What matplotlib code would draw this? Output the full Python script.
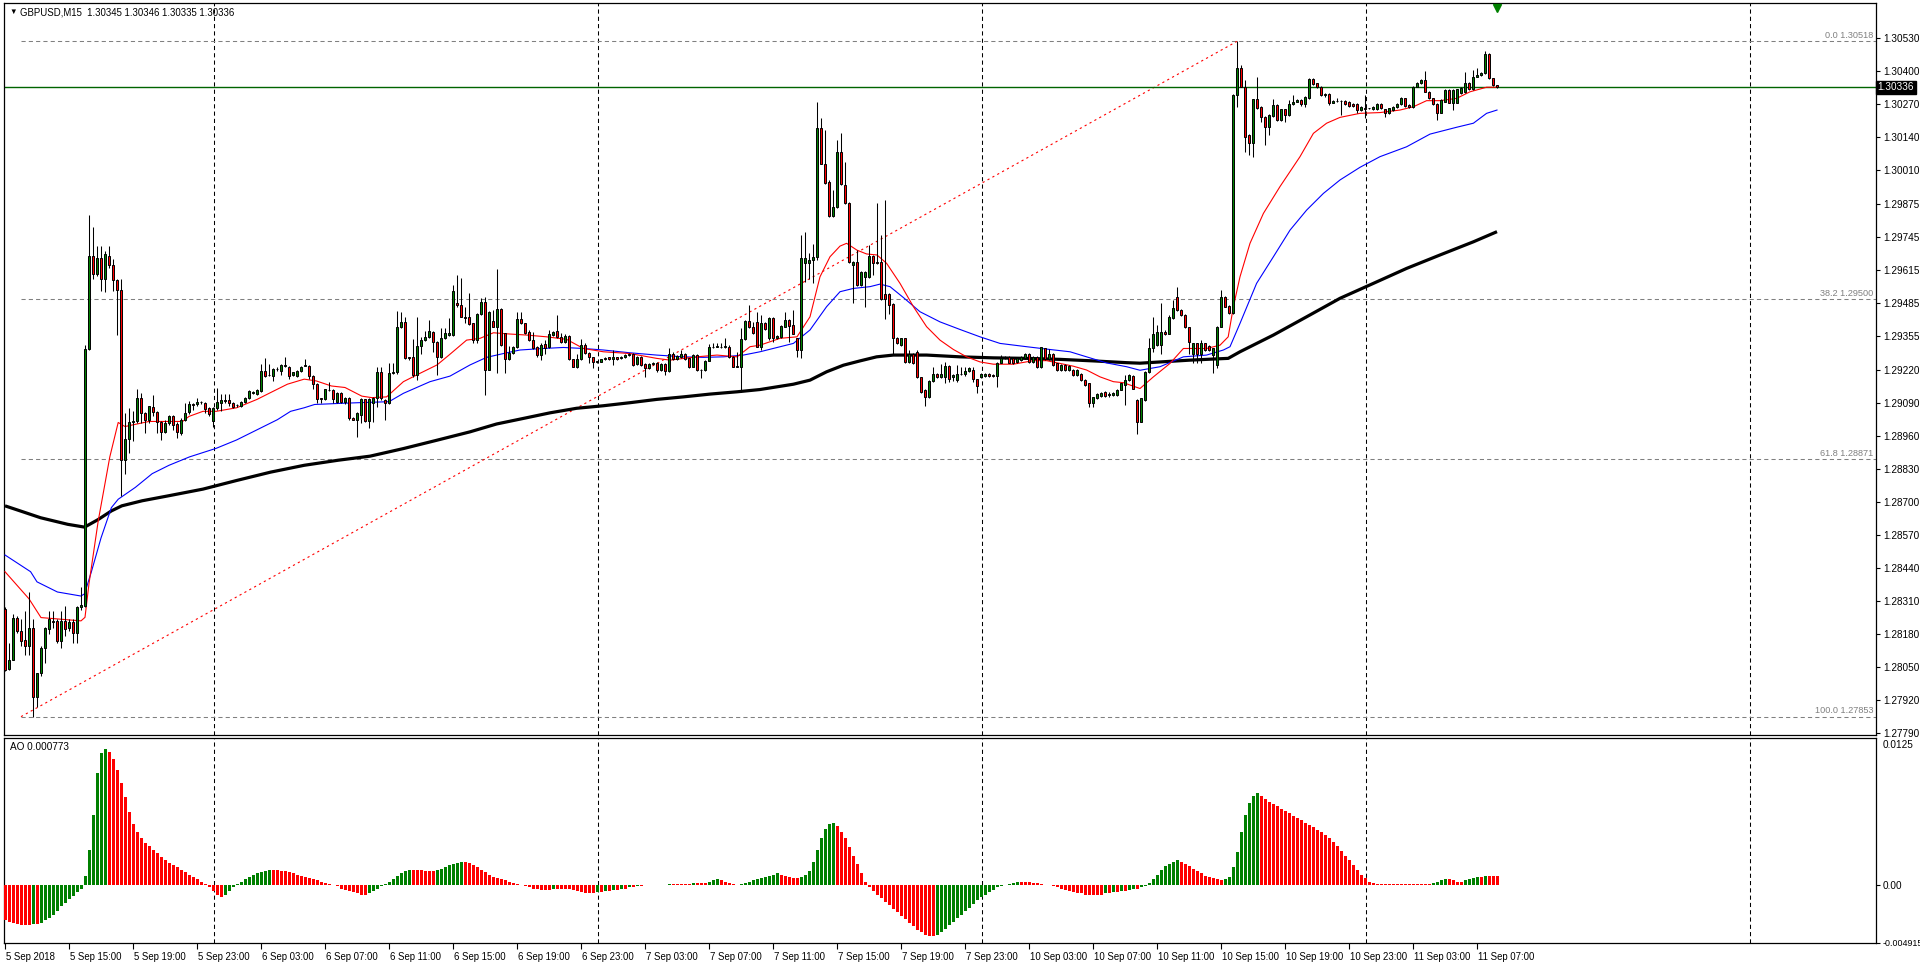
import matplotlib
matplotlib.use("Agg")
import matplotlib.pyplot as plt
from matplotlib.patches import Rectangle
from matplotlib.transforms import blended_transform_factory
import numpy as np

# ---------------- data (prices in pips above BASE) ----------------
BASE = 1.27
PIP = 0.0001
SYMBOL = "GBPUSD,M15"

OPEN = [
127.8,104.0,107.8,124.4,119.1,115.5,113.1,120.4,93.1,102.4,
112.4,119.8,123.1,123.1,115.1,123.1,120.4,122.7,118.4,128.5,
129.1,230.5,266.9,259.9,266.5,258.2,267.2,263.5,257.5,253.5,
186.5,194.8,201.4,201.8,211.2,205.2,202.5,207.6,205.6,201.7,
197.8,201.2,203.8,200.9,197.4,202.5,205.4,208.5,208.5,209.6,
209.2,207.2,201.8,207.2,209.2,209.7,210.2,209.2,208.2,207.8,
209.4,211.2,212.9,212.5,213.8,221.8,220.1,219.8,222.5,221.8,
223.6,223.4,220.1,219.8,221.8,223.8,223.8,219.8,216.5,210.9,
210.5,214.2,214.2,209.4,213.2,209.4,211.2,203.2,202.5,204.5,
210.5,201.8,208.9,210.9,221.4,210.2,208.9,220.8,221.4,238.9,
241.2,227.1,227.1,220.1,231.6,233.9,235.2,237.2,233.3,227.1,
234.6,235.9,235.9,248.4,247.7,243.1,243.1,240.5,233.9,244.2,
248.8,222.3,241.4,239.2,246.2,236.6,226.3,229.0,231.3,242.1,
240.5,237.2,233.9,231.3,228.0,232.3,231.0,235.9,237.6,235.0,
233.3,235.5,226.3,223.1,226.3,231.9,228.9,227.1,225.4,225.4,
226.3,227.1,226.3,227.1,226.7,227.3,228.0,228.6,224.4,227.3,
224.4,222.7,224.4,225.0,222.1,224.4,221.8,228.6,226.3,227.3,
228.4,226.7,223.4,228.0,222.3,222.1,225.8,231.0,231.3,231.0,
231.0,231.3,227.3,223.4,223.4,234.2,241.4,238.9,241.2,231.3,
240.8,234.6,242.8,234.6,235.2,239.2,241.8,239.8,234.6,230.0,
264.2,264.2,265.5,266.8,317.5,303.6,296.4,282.9,286.5,308.3,
295.1,288.1,263.5,264.8,255.6,258.9,258.9,267.1,264.8,264.8,
252.1,252.1,248.1,234.6,231.9,234.6,225.3,228.6,229.3,219.2,
214.2,211.3,217.8,220.7,219.4,219.4,223.6,219.4,218.1,220.5,
220.5,221.8,222.3,218.4,219.4,219.7,220.5,220.1,219.7,225.0,
226.7,227.3,226.7,225.3,226.0,226.7,228.6,225.3,227.3,223.1,
230.6,226.3,228.6,224.7,222.1,224.0,222.1,222.3,220.1,220.5,
218.1,216.8,208.9,210.9,211.8,213.5,212.4,212.2,212.2,214.4,
216.1,218.1,219.7,210.2,201.7,210.2,221.4,230.6,231.9,231.9,
237.2,236.5,242.5,251.0,245.8,243.8,238.9,228.6,232.6,228.6,
232.6,231.5,228.0,224.0,239.2,251.0,247.3,244.7,330.6,341.2,
333.7,314.8,311.8,328.9,326.0,322.1,317.9,322.3,326.7,320.8,
325.0,322.7,327.1,328.0,328.7,327.1,329.3,336.8,335.2,333.7,
330.6,331.0,327.6,328.4,328.3,328.4,328.0,327.1,327.1,324.7,
325.4,325.4,325.0,325.0,327.1,325.0,323.4,324.7,326.0,327.1,
329.3,326.7,325.8,333.9,335.2,336.6,332.0,329.3,327.1,323.7,
328.0,332.6,327.6,327.6,331.3,331.9,335.5,332.9,337.9,338.5,
339.2,346.8,337.2,334.5]

HIGH = [
128.5,114.4,125.8,125.1,123.8,127.1,134.5,123.8,102.6,113.1,
120.8,127.1,127.1,123.8,127.1,129.1,123.8,123.8,129.1,136.5,
232.0,283.2,278.5,271.2,271.2,269.0,271.2,266.0,257.9,257.9,
205.2,207.2,205.8,214.5,212.9,205.5,208.0,212.1,205.8,201.9,
202.5,204.5,204.5,201.4,203.2,209.2,209.8,209.2,211.2,209.9,
209.5,207.4,207.6,215.2,212.5,212.5,212.5,209.5,208.7,209.8,
211.6,214.2,213.8,214.5,224.5,226.8,224.5,222.8,223.2,224.5,
227.2,223.8,221.5,222.1,223.8,226.5,224.1,220.1,216.8,211.2,
214.8,217.2,214.5,213.5,213.5,211.5,211.5,203.5,205.5,211.2,
210.8,211.2,211.5,223.4,223.4,210.6,224.7,224.7,245.5,245.1,
243.1,227.4,234.2,243.1,235.2,237.6,241.8,237.6,233.6,238.5,
238.5,242.5,255.6,259.6,258.3,247.1,252.4,240.8,244.5,250.4,
251.0,245.4,245.8,261.8,246.5,236.9,231.6,231.6,245.1,245.1,
240.8,237.9,237.2,231.6,232.6,233.9,237.9,237.6,243.8,236.6,
236.2,235.8,226.6,228.6,234.2,232.6,229.2,227.4,225.8,226.6,
227.1,227.4,230.0,227.4,227.6,228.3,228.9,228.9,227.6,227.6,
224.7,224.7,225.3,225.3,224.7,224.7,230.6,229.3,227.9,230.0,
228.7,227.0,228.3,228.3,222.6,226.1,232.3,232.9,232.6,232.6,
234.6,231.9,227.6,229.3,238.5,241.8,247.7,241.2,245.1,243.8,
241.1,243.1,243.1,235.9,239.7,245.1,242.1,245.8,234.9,275.4,
276.7,268.4,271.8,328.0,321.4,316.8,297.0,293.1,312.9,315.5,
304.3,288.4,265.2,269.4,261.2,261.2,271.4,267.4,287.9,275.4,
289.2,252.4,248.4,235.2,234.9,234.9,229.9,228.9,230.0,219.5,
214.5,218.1,223.4,221.0,224.4,225.3,223.9,220.4,224.0,223.4,
223.4,223.4,223.4,218.7,220.8,220.8,220.8,220.4,225.3,228.0,
227.6,227.6,227.0,227.2,227.6,228.9,228.9,227.6,227.6,231.3,
230.9,230.2,228.9,225.0,224.3,224.3,223.9,222.6,222.4,220.8,
218.4,217.1,211.6,213.1,213.4,213.8,213.5,213.4,214.7,217.1,
220.1,220.4,220.0,210.5,211.2,221.7,234.6,243.1,239.8,248.4,
237.8,243.8,249.7,255.0,246.1,244.1,239.2,232.9,232.9,233.9,
232.9,231.8,230.9,239.5,253.7,251.3,247.6,330.9,351.8,342.5,
336.6,315.1,329.2,337.9,326.3,322.4,323.0,328.9,327.0,325.3,
325.3,328.7,330.6,329.0,329.0,330.3,337.2,337.2,335.5,334.0,
331.3,331.3,328.7,329.3,328.7,328.7,328.3,327.4,327.4,326.3,
330.6,325.7,326.1,327.6,327.4,325.3,325.7,326.3,327.4,329.9,
329.6,327.0,334.2,335.8,336.9,340.2,332.3,329.6,327.4,329.0,
332.9,332.9,332.9,333.2,333.6,339.9,335.8,340.5,341.2,339.8,
348.1,347.1,337.5,334.6]

LOW = [
103.5,103.8,107.5,118.4,113.1,109.8,109.8,85.3,89.1,101.5,
106.4,117.8,120.4,114.4,112.4,117.1,119.0,114.4,114.4,127.5,
128.5,230.0,257.9,259.2,253.2,252.9,262.5,253.2,235.8,172.5,
180.9,189.2,194.2,201.2,201.2,197.2,201.2,203.8,197.2,194.5,
197.2,200.5,198.5,195.2,196.5,201.8,204.9,206.5,207.8,208.8,
205.2,204.0,199.8,206.2,205.8,209.2,207.8,207.1,207.6,207.5,
209.1,210.8,212.5,212.1,213.4,219.5,219.8,217.8,221.8,220.1,
223.2,218.5,219.8,219.5,221.4,223.5,218.5,214.5,209.2,209.2,
210.2,213.8,209.2,209.2,209.2,208.8,202.5,202.2,195.8,201.2,
201.4,199.2,201.7,207.6,210.2,202.3,208.5,220.5,220.5,238.5,
226.3,226.0,219.4,218.1,228.6,233.6,234.9,229.3,220.1,226.7,
234.2,235.5,235.5,247.1,243.0,240.5,239.8,232.6,232.6,243.8,
212.2,222.0,238.9,220.8,231.5,220.8,225.9,228.6,230.6,240.2,
236.5,233.6,230.2,227.3,226.0,228.6,230.6,235.5,234.6,232.9,
232.9,226.0,223.1,222.8,226.0,228.6,225.0,222.7,225.0,225.1,
226.0,226.0,224.0,226.0,226.4,227.0,227.7,223.6,224.1,223.7,
219.2,222.4,224.1,221.4,221.8,220.1,221.4,226.0,226.0,227.0,
226.0,222.7,223.1,221.8,218.8,221.8,225.5,230.7,231.0,230.7,
230.7,226.7,223.1,223.1,213.5,233.9,238.6,236.5,231.0,230.0,
237.8,233.9,233.2,234.2,234.9,238.9,233.2,236.2,227.3,226.7,
256.9,258.2,256.5,265.5,303.3,295.7,282.6,282.6,286.2,295.1,
287.8,264.4,248.4,255.2,255.2,246.8,258.6,259.6,263.9,249.7,
242.4,244.2,228.6,232.3,231.6,224.7,225.0,224.4,218.9,213.2,
207.8,211.0,217.5,219.1,219.1,216.8,217.5,217.8,217.5,220.2,
219.7,221.5,217.5,213.1,219.1,219.4,219.4,219.4,215.5,224.7,
226.4,224.7,224.4,225.0,225.7,226.4,225.0,225.0,222.8,222.8,
226.0,226.0,223.7,221.8,221.8,221.8,221.8,219.8,219.8,217.8,
215.8,207.6,207.6,210.6,211.5,211.5,211.5,211.9,211.9,214.1,
208.2,217.8,214.5,196.8,201.4,209.9,221.1,229.3,231.6,228.6,
235.9,236.2,242.2,245.5,243.5,238.6,228.6,224.7,224.7,224.7,
229.7,229.7,220.8,222.7,238.9,246.8,244.4,244.4,326.0,333.6,
308.3,306.9,306.3,325.1,320.1,310.9,314.8,322.0,320.5,320.5,
320.1,322.4,326.8,327.7,326.3,326.0,329.0,334.7,333.4,330.3,
330.0,326.7,327.3,328.0,322.7,326.8,326.0,326.0,323.7,324.4,
321.4,325.1,324.7,324.7,325.1,322.1,323.1,324.4,325.7,326.8,
326.0,325.5,325.5,333.6,334.9,331.7,329.0,326.8,320.8,323.4,
327.7,327.3,324.7,327.3,331.0,331.6,332.6,332.6,337.6,338.2,
338.9,336.9,334.3,333.5]

CLOSE = [
103.8,107.8,124.4,119.1,115.1,113.1,120.4,93.1,102.4,112.4,
120.4,123.8,122.5,115.1,123.1,119.8,122.5,118.4,128.5,129.5,
230.5,267.2,259.9,266.5,258.2,267.9,263.5,257.5,253.5,186.5,
194.8,201.4,201.8,211.2,205.2,202.5,207.8,205.6,201.4,197.8,
201.2,203.8,200.5,197.8,202.5,205.2,208.5,208.4,209.4,209.5,
206.8,204.9,207.2,209.6,210.2,210.2,208.9,207.6,208.2,209.4,
211.2,213.8,213.6,214.1,221.8,219.8,220.1,222.5,222.5,224.1,
224.1,219.8,221.2,221.8,223.4,223.9,219.8,216.5,210.5,210.8,
214.5,214.3,210.5,213.2,209.4,211.2,203.2,202.5,205.2,210.5,
201.8,210.5,210.9,221.4,210.9,208.9,220.8,221.4,238.9,241.2,
226.7,226.7,220.1,231.6,233.9,235.2,237.6,233.3,227.1,234.6,
236.6,236.6,253.3,247.7,243.1,242.5,240.2,233.9,244.2,248.8,
222.3,245.1,239.2,246.2,231.9,226.3,229.0,231.3,242.1,240.5,
236.8,233.9,230.6,228.0,231.9,230.6,236.2,237.2,235.0,233.3,
235.5,226.3,223.4,226.3,231.9,228.9,227.1,225.4,225.5,226.3,
226.7,226.3,227.3,226.3,227.3,228.0,228.6,224.0,227.3,224.0,
222.7,224.4,225.0,222.1,224.4,221.8,228.6,226.3,227.6,228.4,
226.3,223.4,228.0,222.1,222.1,225.8,231.0,231.3,231.6,231.3,
231.6,227.3,223.4,223.5,234.2,241.4,238.9,236.8,231.3,240.5,
238.1,242.8,234.6,235.5,239.4,241.8,239.4,236.5,230.0,266.5,
266.5,265.5,266.8,317.5,303.6,296.0,282.9,286.5,308.3,295.5,
288.1,264.8,264.8,255.6,260.9,260.9,267.1,264.4,264.2,250.0,
250.0,247.7,234.6,232.6,234.6,225.3,228.6,224.7,219.2,213.5,
211.3,217.8,220.7,219.4,220.7,223.6,218.4,220.1,220.5,220.7,
221.8,222.7,218.4,215.7,220.5,220.5,219.7,219.7,225.0,226.9,
227.3,225.0,224.7,226.9,227.3,228.6,225.3,227.3,223.1,231.0,
226.3,228.6,224.0,222.1,224.0,222.1,223.6,220.1,222.1,218.1,
216.1,208.9,211.3,212.8,213.1,211.8,212.6,213.1,214.4,216.8,
218.1,220.1,214.8,201.7,210.9,221.4,230.6,236.5,237.2,237.2,
236.3,243.1,246.4,245.8,243.8,238.9,233.3,232.6,228.6,232.6,
230.0,230.0,230.6,239.2,251.0,247.1,244.7,330.6,341.2,333.9,
314.2,311.8,328.9,325.4,322.1,317.9,322.7,326.7,320.8,325.0,
322.7,327.1,328.0,328.7,327.1,330.0,336.8,335.0,333.7,330.6,
331.0,327.6,328.4,328.3,328.4,327.1,326.3,326.3,324.7,326.0,
325.0,325.4,325.8,327.1,325.4,323.4,325.4,326.0,327.1,329.3,
326.3,325.8,333.9,335.2,336.6,332.0,329.3,327.1,323.7,328.7,
332.6,327.6,332.6,332.9,333.3,335.5,332.9,337.9,338.5,339.5,
346.8,337.2,334.6,333.6]

# moving averages: (bar position, pips)
MA_RED_X = [0,6,9,19,20,21,23.3,26.2,28.3,30,36,44.4,46,49.5,52.8,57.9,63,66.4,70.6,74.8,77.8,81.6,85,89.2,91.7,
            95.4,99.6,103.75,108,111,115.4,118.75,122.1,126.25,130.4,135.4,140.4,144.6,149.6,156.25,162.9,166.25,
            172.9,178,183,186.25,188.75,193.75,198,201.25,203.75,206.25,208.75,210.4,213,215.4,218,220.4,223.75,
            227.1,230.4,233.75,237.1,240.4,243.75,247.1,252.1,257.1,260.4,263.75,267.1,270.4,273.75,277.1,279.6,
            283.75,287.1,291.25,294.6,300.4,303.75,305.8,307.1,308.75,311.25,314.6,318.75,323.75,327.1,330.4,
            333.75,338.75,343.75,348.75,352.1,355.4,358.75,362.9,366.25,370.4,373]
MA_RED_Y = [142.5,131.8,124.4,123.1,124.5,137.8,162.5,187.8,201.4,199.8,201.8,201.8,203.8,205.8,205.8,207.2,210.5,
            213.2,216.5,218.5,217.8,215.8,215.2,211.8,211.2,211.5,217.5,220.8,224.1,228.0,233.9,234.6,236.8,236.3,
            235.9,235.2,234.2,230.6,229.3,228.6,226.7,226.0,227.3,228.0,227.3,231.3,231.9,234.6,235.2,243.1,258.9,
            266.8,271.0,272.1,269.4,267.9,267.5,264.2,256.3,247.1,239.2,233.9,230.2,227.3,225.3,224.4,224.4,225.8,
            225.8,224.7,223.6,222.1,219.4,217.5,217.1,214.8,219.4,224.7,230.6,230.6,231.9,235.2,247.1,258.9,272.1,
            283.9,294.5,306.3,315.5,319.5,321.8,323.4,323.7,324.7,326.0,328.4,328.4,329.3,331.9,333.7,333.7]

MA_BLUE_X = [0,6.4,8,13.1,19,19.9,21.6,24,26.6,28.3,32.6,36.8,41,46.1,52.8,57.9,63,68.1,71.4,74.8,77.4,83.3,88.3,
             96,99.6,106.25,111.25,116.25,120.4,124.6,128.75,134.6,139.6,144.6,149.6,156.25,162.9,169.6,174.6,
             179.6,184.6,188.75,197.1,201.25,205.4,208.75,212.1,216.25,218.75,221.25,224.6,228.75,233.75,238.75,
             243.75,248.75,255.4,261.25,266.25,270.4,275.4,280.4,283.75,288.75,294.6,300.4,304.6,306.25,308.75,
             312.9,317.1,321.25,325.4,329.6,333.75,338.75,343.75,350.4,356.25,362.9,367.1,370.4,373]
MA_BLUE_Y = [149.1,142.5,138.5,134.5,132.9,133.8,142.5,155.8,167.8,171.1,175.8,181.2,184.5,187.8,191.2,194.5,198.5,
             202.5,205.8,207.2,208.5,208.9,209.2,209.6,212.9,217.5,219.7,224.1,227.1,228.6,230.0,230.6,231.0,230.6,
             230.0,228.9,228.0,227.3,227.1,227.3,228.0,229.3,232.6,237.9,247.1,253.0,254.3,255.0,256.0,255.0,250.7,
             245.1,241.1,238.1,235.2,232.6,231.3,230.2,229.3,227.3,224.9,223.4,222.0,223.4,227.3,228.0,230.0,231.3,
             240.5,256.3,266.8,277.3,285.2,291.8,297.1,302.1,306.3,310.2,315.2,317.9,319.5,323.4,324.7]

MA_BLACK_X = [0,3.8,8.9,15.7,19.9,23.3,26.6,29.2,34.3,41,49.5,57.9,66.4,74.8,83.3,91.25,99.6,108,116.25,122.9,
              129.6,136.25,142.9,149.6,156.25,162.9,169.6,176.25,183,188.75,197.1,201.25,205.4,209.6,213.75,217.9,
              222.1,230.4,238.75,247.1,255.4,263.75,272.1,280.4,283.75,296.25,305.8,308.75,317.1,325.4,333.75,
              342.1,350.4,358.75,367.1,373]
MA_BLACK_Y = [168.5,166.5,163.8,161.2,160.1,163.1,166.5,168.5,170.5,172.5,175.1,178.5,181.8,184.5,186.5,188.1,191.1,
              194.4,197.7,200.8,203.0,205.2,207.0,208.0,209.2,210.5,211.5,212.6,213.5,214.4,216.5,218.1,221.4,224.0,
              225.7,227.3,228.0,228.0,227.3,226.9,226.7,226.3,225.7,225.0,224.8,226.0,226.7,229.3,235.9,243.1,250.4,
              256.3,262.2,267.5,272.7,276.7]

# Awesome Oscillator per bar, in units of 0.0001
AO = [
-30,-31,-32,-33,-34,-34,-34,-33,-33,-32,-30,-28,-25,-22,-18,-15,-12,-9,-6,-3,
8,30,60,95,112,116,113,107,98,87,75,62,52,45,
40,36,33,30,27,24,21,19,17,15,13,11,9,7,5,3,1,-2,-5,
-8,-10,-8,-5,-2,1,3,5,
7,9,10,11,12,13,13,13,12,12,11,10,9,8,7,6,5,4,3,2,
1,0,-1,-3,-4,-5,-6,-7,-8,-8,-7,-5,-3,-1,1,
3,5,8,10,12,13,13,13,13,12,12,12,13,14,15,17,18,19,20,20,19,17,15,13,11,9,7,6,5,4,
3,2,1,0,-1,-2,-3,-3,-4,-4,-4,-3,-3,-3,-3,-3,-4,-5,-6,-7,-7,-7,-6,-6,-5,
-5,-4,-4,-3,-3,-2,-2,-1,-1,0,0,0,0,0,0,1,1,1,1,1,1,2,2,2,2,3,4,5,4,3,2,1,0,1,2,
3,4,5,6,7,8,9,10,9,8,7,6,6,7,9,
12,20,30,40,48,52,53,50,45,40,32,25,18,10,3,
-2,-5,-8,-11,-14,-17,-20,-23,-26,-29,-32,-35,-38,-40,-42,-43,-43,-42,-40,-37,-34,-31,-28,-25,-22,
-19,-16,-13,-10,-8,-6,-4,-2,-1,0,1,2,3,3,3,3,2,2,1,0,
0,-1,-2,-3,-4,-5,-6,-7,-7,-8,-8,-8,-8,-8,-7,-7,-6,-6,-5,-5,-4,-3,-3,-2,-1,
2,5,9,13,16,18,20,21,20,18,16,14,12,10,8,7,6,5,4,5,7,
15,28,45,60,70,76,78,76,73,71,69,67,65,63,61,59,57,55,53,51,49,47,45,43,
40,37,33,29,25,21,17,13,9,6,3,2,1,1,1,
1,1,1,1,1,1,1,1,1,1,1,2,3,4,5,5,4,3,3,4,5,6,7,7,8,8,8,8]
AO_LAST = 0.000773

PRICE_TICKS = [1.30530, 1.30400, 1.30270, 1.30140, 1.30010, 1.29875, 1.29745, 1.29615, 1.29485, 1.29355,
               1.29220, 1.29090, 1.28960, 1.28830, 1.28700, 1.28570, 1.28440, 1.28310, 1.28180, 1.28050,
               1.27920, 1.27790]
AO_TICKS = [0.0, -0.004915]
AO_MAX = 0.0125
AO_MIN = -0.004915

FIB_LEVELS = ["0.0", "38.2", "61.8", "100.0"]
FIB_PRICES = [1.30518, 1.29500, 1.28871, 1.27853]
FIB_START_BAR = 4
TREND_BARS = [4, 308]
TREND_PRICES = [1.27853, 1.30518]
CURRENT_PRICE = 1.30336

XTICK_BARS = list(range(0, 369, 16))
XTICK_LABELS = ["5 Sep 2018", "5 Sep 15:00", "5 Sep 19:00", "5 Sep 23:00", "6 Sep 03:00", "6 Sep 07:00",
                "6 Sep 11:00", "6 Sep 15:00", "6 Sep 19:00", "6 Sep 23:00", "7 Sep 03:00", "7 Sep 07:00",
                "7 Sep 11:00", "7 Sep 15:00", "7 Sep 19:00", "7 Sep 23:00", "10 Sep 03:00", "10 Sep 07:00",
                "10 Sep 11:00", "10 Sep 15:00", "10 Sep 19:00", "10 Sep 23:00", "11 Sep 03:00", "11 Sep 07:00"]
DAY_BARS = [52, 148, 244, 340, 436]

# ---------------- figure ----------------
plt.rcParams['font.family'] = ['Liberation Sans', 'DejaVu Sans']
W, H = 1920, 967
fig = plt.figure(figsize=(W / 100, H / 100), dpi=100)
fig.patch.set_facecolor("white")

def box(left, top, right, bottom):
    return [left / W, 1 - bottom / H, (right - left) / W, (bottom - top) / H]

ax = fig.add_axes(box(4, 3, 1876, 735))
ax2 = fig.add_axes(box(4, 738, 1876, 943))

N = len(CLOSE)
assert len(OPEN) == N and len(HIGH) == N and len(LOW) == N and len(AO) == N
idx = np.arange(N)
o = BASE + np.array(OPEN) * PIP
c = BASE + np.array(CLOSE) * PIP
h = np.maximum(BASE + np.array(HIGH) * PIP, np.maximum(o, c))
l = np.minimum(BASE + np.array(LOW) * PIP, np.minimum(o, c))

XMIN, XMAX = -0.25, -0.25 + (1876 - 4) / 4.0
PX_PER_UNIT = 25339.0
ax.set_xlim(XMIN, XMAX)
ax.set_ylim(1.30530 - (735 - 38.33) / PX_PER_UNIT, 1.30530 + (38.33 - 3) / PX_PER_UNIT)

GREEN = "#008000"
RED = "#ff0000"

# day separators
for b in DAY_BARS:
    for a in (ax, ax2):
        a.axvline(b + 0.25, color="black", lw=0.75, ls=(0, (4, 3)), zorder=1)

# fibonacci levels
tr = blended_transform_factory(ax.transAxes, ax.transData)
for lev, p in zip(FIB_LEVELS, FIB_PRICES):
    ax.plot([FIB_START_BAR, XMAX], [p, p], color="#808080", lw=0.75, ls=(0, (4, 3)), zorder=1)
    ax.text(0.9985, p + 1.2 / PX_PER_UNIT, f"{lev} {p:.5f}", transform=tr, ha="right", va="bottom",
            fontsize=6.6, color="#808080", zorder=6)

# trend line
ax.plot(TREND_BARS, TREND_PRICES, color="red", lw=0.8, ls=(0, (2, 3)), zorder=2)

# current price horizontal line
ax.axhline(CURRENT_PRICE, color="#006400", lw=1.0, zorder=2)

# moving averages
ax.plot(MA_BLACK_X, BASE + np.array(MA_BLACK_Y) * PIP, color="black", lw=2.3, zorder=3, solid_capstyle="butt")
ax.plot(MA_BLUE_X, BASE + np.array(MA_BLUE_Y) * PIP, color="#0000ff", lw=0.8, zorder=3)
ax.plot(MA_RED_X, BASE + np.array(MA_RED_Y) * PIP, color="#ff0000", lw=0.8, zorder=3)

# candles
ax.vlines(idx, l, h, color="black", lw=0.75, zorder=4)
for i in range(N):
    up = c[i] >= o[i]
    bot = min(o[i], c[i])
    ht = abs(c[i] - o[i])
    ax.add_patch(Rectangle((i - 0.36, bot), 0.72, ht, facecolor=GREEN if up else RED,
                           edgecolor="black", lw=0.7, zorder=5))

# chart-shift marker
ax.plot([idx[-1]], [0.993], transform=blended_transform_factory(ax.transData, ax.transAxes),
        marker="v", color=GREEN, markersize=6, clip_on=False, zorder=7)

# y axis (right)
for a in (ax, ax2):
    a.yaxis.tick_right()
    a.tick_params(axis="y", direction="out", length=3, width=0.8, pad=2, labelsize=7.2, colors="black")
    for s in a.spines.values():
        s.set_color("black")
        s.set_linewidth(0.9)
ax.set_yticks(PRICE_TICKS)
ax.set_yticklabels([f"{v:.5f}" for v in PRICE_TICKS])
ax.set_xticks([])

# current price label
ax.text(1.0008, CURRENT_PRICE, f"{CURRENT_PRICE:.5f}", transform=tr, ha="left", va="center",
        fontsize=7.2, color="white", zorder=8, clip_on=False,
        bbox=dict(boxstyle="square,pad=0.18", facecolor="black", edgecolor="black"))

# header text
fig.text(9 / W, 1 - 12.5 / H, "\u25bc", fontsize=5.5, va="center", ha="left", color="black")
fig.text(20 / W, 1 - 12.5 / H,
         f"{SYMBOL}  {o[-1]:.5f} {h[-1]:.5f} {l[-1]:.5f} {c[-1]:.5f}",
         fontsize=6.9, va="center", ha="left", color="black")

# ---------------- AO panel ----------------
aov = np.array(AO) * 1e-4
cols = [GREEN if (i > 0 and aov[i] > aov[i - 1]) else RED for i in range(N)]
ax2.bar(idx, aov, width=0.75, color=cols, linewidth=0, zorder=3)
ax2.set_xlim(XMIN, XMAX)
ax2.set_ylim(AO_MIN, AO_MAX)
ax2.set_yticks(AO_TICKS)
ax2.set_yticklabels(["0.00", ""])
ax2.text(1.0035, 0.0, f"{AO_MIN:.6f}", transform=ax2.transAxes, ha="left", va="center",
         fontsize=6.4, clip_on=False)
ax2.text(1.0035, 1 - 7 / 205, f"{AO_MAX:.4f}", transform=ax2.transAxes, ha="left", va="center",
         fontsize=7.2, clip_on=False)
ax2.text(6 / 1872, 1 - 9 / 205, f"AO {AO_LAST:.6f}", transform=ax2.transAxes, ha="left", va="center",
         fontsize=7.2, color="black")

ax2.set_xticks(XTICK_BARS)
ax2.set_xticklabels([])
ax2.tick_params(axis="x", direction="out", length=4, width=0.8)
for b, lab in zip(XTICK_BARS, XTICK_LABELS):
    ax2.text(b + 0.3, -0.045, lab, transform=blended_transform_factory(ax2.transData, ax2.transAxes),
             ha="left", va="top", fontsize=6.9, clip_on=False)

fig.savefig("out.png", dpi=100, facecolor="white")
